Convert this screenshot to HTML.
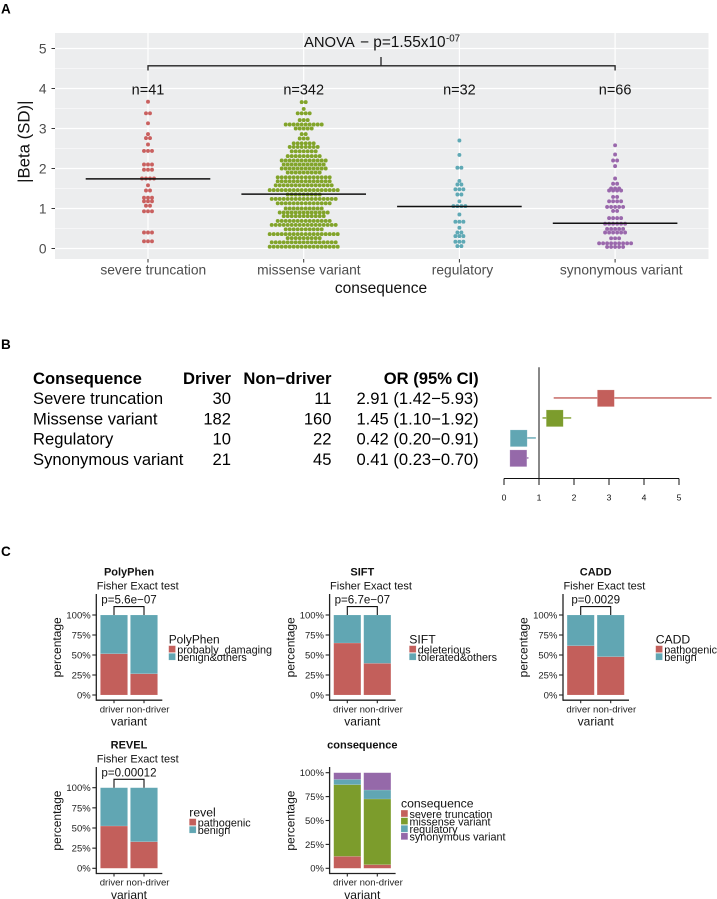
<!DOCTYPE html>
<html lang="en">
<head>
<meta charset="utf-8">
<title>Driver variant consequence figure</title>
<style>
html,body{margin:0;padding:0;background:#fff;}
svg{display:block;font-family:"Liberation Sans",Arial,sans-serif;filter:blur(0.3px);}
</style>
</head>
<body>
<svg id="fig" xmlns="http://www.w3.org/2000/svg" width="717" height="899" viewBox="0 0 717 899">
  <text x="1" y="13.5" font-size="13.5" font-weight="bold">A</text>
  <text x="1" y="349" font-size="13.5" font-weight="bold">B</text>
  <text x="1" y="556" font-size="13.5" font-weight="bold">C</text>

  <g id="panelA"></g>
  <g id="panelA-annot">
    <text x="304" y="47" font-size="14.8" fill="#111111">ANOVA<tspan x="360" y="47" font-size="15.4">− p=1.55x10</tspan><tspan x="446" y="41.5" font-size="9.7">-07</tspan></text>
  </g>

  <g font-size="16.6">
    <g font-weight="bold">
      <text x="33" y="384">Consequence</text>
      <text x="231" y="384" text-anchor="end">Driver</text>
      <text x="331.5" y="384" text-anchor="end">Non−driver</text>
      <text x="478.7" y="384" text-anchor="end">OR (95% CI)</text>
    </g>
    <g>
      <text x="33" y="404">Severe truncation</text>
      <text x="231" y="404" text-anchor="end">30</text>
      <text x="331.5" y="404" text-anchor="end">11</text>
      <text x="478.7" y="404" text-anchor="end">2.91 (1.42−5.93)</text>
    </g>
    <g>
      <text x="33" y="424.3">Missense variant</text>
      <text x="231" y="424.3" text-anchor="end">182</text>
      <text x="331.5" y="424.3" text-anchor="end">160</text>
      <text x="478.7" y="424.3" text-anchor="end">1.45 (1.10−1.92)</text>
    </g>
    <g>
      <text x="33" y="444.6">Regulatory</text>
      <text x="231" y="444.6" text-anchor="end">10</text>
      <text x="331.5" y="444.6" text-anchor="end">22</text>
      <text x="478.7" y="444.6" text-anchor="end">0.42 (0.20−0.91)</text>
    </g>
    <g>
      <text x="33" y="464.9">Synonymous variant</text>
      <text x="231" y="464.9" text-anchor="end">21</text>
      <text x="331.5" y="464.9" text-anchor="end">45</text>
      <text x="478.7" y="464.9" text-anchor="end">0.41 (0.23−0.70)</text>
    </g>
  </g>
  <g id="panelB"></g>
  <g id="panelC"></g>
</svg>

<script>
/* ---------- Panel A data ---------- */
const consequenceNames = ['severe truncation', 'missense variant', 'regulatory', 'synonymous variant'];
const consequenceSlugs = ['severe', 'missense', 'regulatory', 'synonymous'];
const sampleSizes = ['n=41', 'n=342', 'n=32', 'n=66'];
const beeYTicks = [0, 1, 2, 3, 4, 5];
const beeYMinorTicks = [0.5, 1.5, 2.5, 3.5, 4.5];

const severeValues = [3.67, 3.38, 3.13, 2.86, 2.76, 2.60, 2.44, 2.10, 1.97, 1.75, 1.58, 1.45, 1.27, 1.18, 1.07, 0.93, 0.40, 0.18];
const severeCounts = [1, 2, 1, 1, 2, 1, 3, 3, 3, 4, 1, 2, 3, 3, 2, 3, 3, 3];
const missenseValues = [3.66, 3.49, 3.38, 3.21, 3.10, 3.00, 2.86, 2.75, 2.63, 2.54, 2.43, 2.31, 2.20, 2.10, 2.00, 1.90, 1.78, 1.68, 1.58, 1.46, 1.35, 1.24, 1.13, 1.00, 0.90, 0.81, 0.69, 0.59, 0.48, 0.36, 0.26, 0.155, 0.045];
const missenseCounts = [2, 1, 4, 3, 10, 5, 2, 3, 6, 8, 7, 9, 12, 11, 12, 9, 14, 14, 15, 18, 9, 17, 14, 10, 13, 11, 14, 17, 10, 18, 9, 17, 18];
const regulatoryValues = [2.70, 2.34, 2.02, 1.69, 1.60, 1.48, 1.35, 1.18, 1.06, 0.85, 0.67, 0.52, 0.40, 0.31, 0.17, 0.06];
const regulatoryCounts = [1, 1, 2, 1, 2, 3, 2, 1, 4, 1, 3, 1, 2, 3, 3, 2];
const synonymousValues = [2.58, 2.35, 2.20, 2.06, 1.75, 1.62, 1.50, 1.45, 1.29, 1.18, 1.04, 0.94, 0.76, 0.62, 0.49, 0.40, 0.255, 0.13, 0.04];
const synonymousCounts = [1, 1, 2, 1, 1, 2, 3, 4, 2, 4, 5, 2, 4, 6, 5, 6, 3, 9, 5];
const beeMeans = [1.74, 1.36, 1.05, 0.63];

/* ---------- Panel B data ---------- */
const oddsRatios = [2.91, 1.45, 0.42, 0.41];
const ciLower = [1.42, 1.10, 0.20, 0.23];
const ciUpper = [5.93, 1.92, 0.91, 0.70];
const forestTicks = [0, 1, 2, 3, 4, 5];

/* ---------- Panel C data ---------- */
const variantClasses = ['driver', 'non-driver'];
const percentTicks = [0, 25, 50, 75, 100];
const polyphenLevels = ['probably_damaging', 'benign&others'];
const polyphenDriver = [51.6, 48.4];
const polyphenNonDriver = [26.6, 73.4];
const siftLevels = ['deleterious', 'tolerated&others'];
const siftDriver = [65, 35];
const siftNonDriver = [39.6, 60.4];
const caddLevels = ['pathogenic', 'benign'];
const caddDriver = [61.6, 38.4];
const caddNonDriver = [47.9, 52.1];
const revelLevels = ['pathogenic', 'benign'];
const revelDriver = [52.5, 47.5];
const revelNonDriver = [33, 67];
const consequenceDriver = [12.5, 75, 5.5, 7];
const consequenceNonDriver = [3.8, 68.7, 9.4, 18.1];

/* ---------- palette ---------- */
const RED = '#c35f5b', GREEN = '#7c9c2c', TEAL = '#61a6b3', PURPLE = '#9569a9';
const catColors = [RED, GREEN, TEAL, PURPLE];
const dotColors = ['#c9605f', '#82a42a', '#5fa9b5', '#9a68ac'];
const SVGNS = 'http://www.w3.org/2000/svg';

function mk(parent, tag, name, attrs, txt) {
  const el = document.createElementNS(SVGNS, tag);
  for (const k in attrs) el.setAttribute(k, attrs[k]);
  
  
  if (txt !== undefined) el.textContent = txt;
  parent.appendChild(el);
  return el;
}
function line(p, name, x1, y1, x2, y2, stroke, w) {
  return mk(p, 'line', name, {x1: x1, y1: y1, x2: x2, y2: y2, stroke: stroke, 'stroke-width': w});
}
function label(p, name, x, y, size, txt, extra) {
  return mk(p, 'text', name, Object.assign({x: x, y: y, 'font-size': size}, extra || {}), txt);
}

/* ---------- Panel A ---------- */
(function () {
  const g = document.getElementById('panelA');
  const left = 55, right = 708.5, top = 33, bottom = 259;
  const yA = v => 248.5 - 40 * v;
  const xA = i => 148 + 155.7 * i;
  mk(g, 'rect', 'plot-background', {x: left, y: top, width: right - left, height: bottom - top, fill: '#ecedee'});
  beeYMinorTicks.forEach(v => { line(g, 'minor-gridline', left, yA(v), right, yA(v), '#ffffff', 0.6); });
  beeYTicks.forEach(v => {
    line(g, 'major-gridline', left, yA(v), right, yA(v), '#ffffff', 1.2);
    line(g, 'y-tick', 51.5, yA(v), left, yA(v), '#333333', 1);
    label(g, 'y-tick-label', 46.5, yA(v) + 5, 13.8, String(v), {'text-anchor': 'end', fill: '#4d4d4d'});
  });
  consequenceNames.forEach((c, i) => {
    line(g, 'vertical-gridline', xA(i), top, xA(i), bottom, '#ffffff', 1.2);
    line(g, 'x-tick', xA(i), bottom, xA(i), 262.5, '#333333', 1);
  });
  const allValues = [severeValues, missenseValues, regulatoryValues, synonymousValues];
  const allCounts = [severeCounts, missenseCounts, regulatoryCounts, synonymousCounts];
  allValues.forEach((vals, i) => {
    const sg = mk(g, 'g', 'dots-' + consequenceSlugs[i], {fill: dotColors[i]});
    vals.forEach((v, r) => {
      const n = allCounts[i][r];
      for (let j = 0; j < n; j++) {
        mk(sg, 'circle', 'dot-' + consequenceSlugs[i], {cx: xA(i) + (j - (n - 1) / 2) * 4, cy: yA(v), r: 1.95});
      }
    });
  });
  beeMeans.forEach((m, i) => {
    line(g, 'mean-line-' + consequenceSlugs[i], xA(i) - 62.3, yA(m), xA(i) + 62.3, yA(m), '#111111', 1.5);
  });
  sampleSizes.forEach((s, i) => {
    label(g, 'sample-size-' + consequenceSlugs[i], xA(i), 94.7, 14.5, s, {'text-anchor': 'middle', fill: '#111111'});
  });
  consequenceNames.forEach((c, i) => {
    const t = label(g, 'x-tick-label', xA(i), 274.7, 13.8, c, {fill: '#4d4d4d'});
    t.setAttribute('x', xA(i) - 0.45 * t.getComputedTextLength());
  });
  label(g, 'x-axis-title', 381, 293, 15.5, 'consequence', {'text-anchor': 'middle', fill: '#111111'});
  const yt = label(g, 'y-axis-title', 0, 0, 16.8, '|Beta (SD)|', {'text-anchor': 'middle', fill: '#111111'});
  yt.setAttribute('transform', 'translate(29.5 141.7) rotate(-90)');
  /* bracket */
  mk(g, 'path', 'anova-bracket', {d: 'M' + xA(0) + ' 70.5V65.8H' + xA(3) + 'V70.5M381 65.8V57', fill: 'none', stroke: '#222222', 'stroke-width': 1.3});
})();

/* ---------- Panel B ---------- */
(function () {
  const g = document.getElementById('panelB');
  const xF = v => 504 + 35 * v;
  const rowY = i => 398.3 + 20 * i;
  line(g, 'reference-line-or-1', xF(1), 367.3, xF(1), 478.5, '#111111', 1);
  oddsRatios.forEach((or, i) => {
    const s = consequenceSlugs[i];
    line(g, 'ci-line-' + s, xF(ciLower[i]), rowY(i) - 0.4, xF(ciUpper[i]), rowY(i) - 0.4, catColors[i], 1.6).setAttribute('stroke-opacity', '0.85');
    mk(g, 'rect', 'or-box-' + s, {x: xF(or) - 8.5, y: rowY(i) - 8.4, width: 17, height: 16.8, fill: catColors[i], stroke: '#ffffff', 'stroke-opacity': 0.3, 'stroke-width': 0.6});
  });
  line(g, 'forest-x-axis', xF(0), 478.5, xF(5), 478.5, '#111111', 1);
  forestTicks.forEach(t => {
    line(g, 'forest-x-tick', xF(t), 478.5, xF(t), 485, '#111111', 1);
    label(g, 'forest-x-tick-label', xF(t), 500.7, 8.6, String(t), {'text-anchor': 'middle', fill: '#111111'});
  });
})();

/* ---------- Panel C ---------- */
function drawStack(opts) {
  const root = document.getElementById('panelC');
  const g = mk(root, 'g', 'stacked-chart-' + opts.slug, {});
  const dx = opts.dx, y0 = opts.y0, h = opts.h, axisTop = opts.axisTop;
  const yS = p => y0 - h * p / 100;
  const cx = i => 114 + dx + 30 * i;
  const axisX = 96.3 + dx, axisY = y0 + 5.2;
  /* bars */
  opts.series.forEach((vals, b) => {
    const total = vals.reduce((a, v) => a + v, 0);
    let acc = 0;
    vals.forEach((v, k) => {
      const pct = 100 * v / total;
      mk(g, 'rect', 'bar-' + variantClasses[b] + '-' + opts.levels[k], {
        x: cx(b) - 13.6, y: yS(acc + pct), width: 27.2, height: yS(acc) - yS(acc + pct),
        fill: opts.colors[k], stroke: '#ffffff', 'stroke-opacity': 0.25, 'stroke-width': 0.5
      });
      acc += pct;
    });
  });
  /* axes */
  line(g, 'y-axis-line', axisX, axisTop, axisX, axisY + 0.6, '#222222', 1.3);
  line(g, 'x-axis-line', axisX, axisY, 162.3 + dx, axisY, '#222222', 1.3);
  percentTicks.forEach(p => {
    line(g, 'y-tick', axisX - 4, yS(p), axisX, yS(p), '#222222', 1.1);
    label(g, 'y-tick-label', axisX - 5.6, yS(p) + 3.4, 9.5, p + '%', {'text-anchor': 'end', fill: '#222222'});
  });
  variantClasses.forEach((c, i) => {
    line(g, 'x-tick', cx(i), axisY, cx(i), axisY + 3, '#222222', 1.1);
    label(g, 'x-tick-label', i === 0 ? 99.7 + dx : 126.3 + dx, y0 + 17.3, 9.6, c, {fill: '#222222'});
  });
  label(g, 'x-axis-title', 129 + dx, y0 + 30.7, 12, 'variant', {'text-anchor': 'middle', fill: '#111111'});
  const yt = label(g, 'y-axis-title', 0, 0, 12, 'percentage', {'text-anchor': 'middle', fill: '#111111'});
  yt.setAttribute('transform', 'translate(' + (61 + dx) + ' ' + (y0 - 47.7) + ') rotate(-90)');
  /* titles */
  label(g, 'chart-title', 129 + dx, opts.titleY, 11, opts.title, {'text-anchor': 'middle', 'font-weight': 'bold', fill: '#111111'});
  if (opts.p) {
    label(g, 'test-name', 137.7 + dx, opts.titleY + 14.4, 11, 'Fisher Exact test', {'text-anchor': 'middle', fill: '#111111'});
    label(g, 'p-value', 129 + dx, opts.titleY + 28.2, 11.6, opts.p, {'text-anchor': 'middle', fill: '#111111'});
    mk(g, 'path', 'significance-bracket', {d: 'M' + cx(0) + ' ' + yS(100) + 'V' + (yS(100) - 8.4) + 'H' + cx(1) + 'V' + yS(100), fill: 'none', stroke: '#111111', 'stroke-width': 1.1});
  }
  /* legend */
  const lg = mk(g, 'g', 'legend-' + opts.slug, {});
  const tl = label(lg, 'legend-title', opts.legX, opts.legY, 12.2, opts.legTitle, {fill: '#111111'});
  if (opts.legWidth) {
    tl.setAttribute('textLength', opts.legWidth);
    tl.setAttribute('lengthAdjust', 'spacingAndGlyphs');
  }
  opts.levels.forEach((lv, k) => {
    const sy = opts.legY + 2.4 + 7.6 * k;
    mk(lg, 'rect', 'legend-swatch', {x: opts.legX, y: sy, width: 6.8, height: 6.8, fill: opts.colors[k], stroke: '#ffffff', 'stroke-opacity': 0.25, 'stroke-width': 0.5});
    label(lg, 'legend-label', opts.legX + 8.5, opts.legY + 10.2 + 7.5 * k, 10.8, lv, {fill: '#111111'});
  });
}

drawStack({slug: 'polyphen', title: 'PolyPhen', legTitle: 'PolyPhen', legWidth: 51, p: 'p=5.6e−07', dx: 0, y0: 695, h: 80, axisTop: 594, titleY: 575.3, legX: 168.7, legY: 643.3, levels: polyphenLevels, colors: [RED, TEAL], series: [polyphenDriver, polyphenNonDriver]});
drawStack({slug: 'sift', title: 'SIFT', legTitle: 'SIFT', p: 'p=6.7e−07', dx: 233.3, y0: 695, h: 80, axisTop: 594, titleY: 575.3, legX: 409.3, legY: 643.3, levels: siftLevels, colors: [RED, TEAL], series: [siftDriver, siftNonDriver]});
drawStack({slug: 'cadd', title: 'CADD', legTitle: 'CADD', p: 'p=0.0029', dx: 466.7, y0: 695, h: 80, axisTop: 594, titleY: 575.3, legX: 655.7, legY: 643.3, levels: caddLevels, colors: [RED, TEAL], series: [caddDriver, caddNonDriver]});
drawStack({slug: 'revel', title: 'REVEL', legTitle: 'revel', p: 'p=0.00012', dx: 0, y0: 868.3, h: 80.6, axisTop: 767, titleY: 748.3, legX: 189.3, legY: 816.3, levels: revelLevels, colors: [RED, TEAL], series: [revelDriver, revelNonDriver]});
drawStack({slug: 'consequence', title: 'consequence', legTitle: 'consequence', p: null, dx: 233.3, y0: 868.3, h: 95.6, axisTop: 767, titleY: 748.3, legX: 401, legY: 807.7, levels: consequenceNames, colors: [RED, GREEN, TEAL, PURPLE], series: [consequenceDriver, consequenceNonDriver]});
</script>
</body>
</html>
